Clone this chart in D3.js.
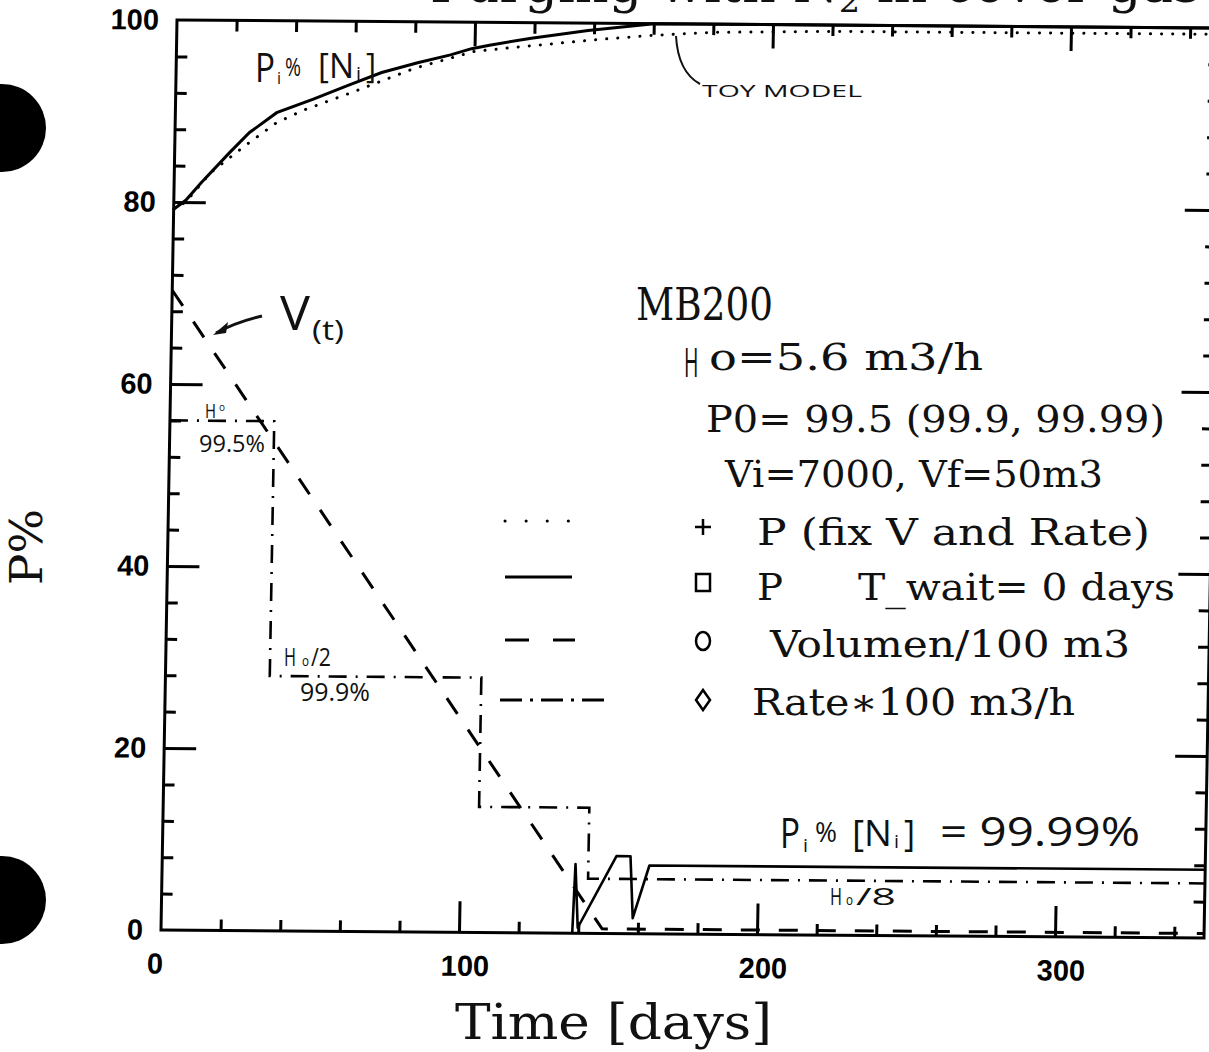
<!DOCTYPE html>
<html>
<head>
<meta charset="utf-8">
<script src="https://cdn.jsdelivr.net/npm/d3@7"></script>
<style>
  body { margin: 0; background: #fff; }
  svg { display: block; }
  .hand { font-family: 'Open Sans', 'Lato', sans-serif; font-weight: 400; fill: #111; }
  .print { font-family: 'DejaVu Serif', serif; fill: #111; }
</style>
</head>
<body>
<svg id="chart" width="1209" height="1052"></svg>
<script>
// ---- axis ticks ----
const xMajorTicks = [0, 100, 200, 300];
const xMinorTicks = [20, 40, 60, 80, 120, 140, 160, 180, 220, 240, 260, 280, 320, 340];
const yMajorTicks = [0, 20, 40, 60, 80, 100];
const yMinorTicks = [4, 8, 12, 16, 24, 28, 32, 36, 44, 48, 52, 56, 64, 68, 72, 76, 84, 88, 92, 96];

// ---- P with fixed V and rate (toy model, dotted) ----
const toyDays = [0, 4, 12, 23, 34, 43, 60, 80, 100, 114, 141, 159, 180, 220, 350];
const toyP    = [79.2, 80.0, 83.2, 86.1, 88.8, 90.2, 92.3, 94.9, 96.8, 97.3, 98.2, 98.7, 99.1, 99.3, 99.3];

// ---- P, T_wait = 0 days (solid, upper curve) ----
const pDays = [0, 4, 9, 18.5, 25, 34, 46, 58, 69, 81, 92, 99, 105, 119, 138, 160, 350];
const pVals = [79.2, 80.2, 82.1, 85.5, 87.7, 89.9, 91.4, 93.0, 94.4, 95.5, 96.4, 97.1, 97.5, 98.3, 99.2, 100, 100];

// ---- P, 99.99 % feed (solid, lower curve) ----
const lowDays = [138, 138.7, 139.8, 152.4, 157.1, 158.2, 163.5, 350];
const lowVals = [0, 7.6, 0.6, 8.5, 8.5, 1.7, 7.5, 7.5];

// ---- Volumen / 100 m3 (dashed) ----
const volDays = [0, 148, 350];
const volVals = [70.3, 0.5, 0.5];

// ---- Rate * 100 m3/h (dash-dot, steps) ----
const rateDays = [0, 35, 106, 143, 350];
const rateVals = [56, 28, 13.8, 6, 6];

const W = 1043, H = 910;
const x = d3.scaleLinear().domain([0, 350]).range([0, W]);
const y = d3.scaleLinear().domain([0, 100]).range([H, 0]);

const svg = d3.select('#chart');

// title line (runs off the top of the sheet)
svg.append('text').attr('class', 'print')
  .attr('x', 430).attr('y', 2)
  .attr('font-size', 50)
  .attr('textLength', 770).attr('lengthAdjust', 'spacingAndGlyphs')
  .html('Purging with N<tspan font-size="32" dy="10">2</tspan><tspan dy="-10"> in cover gas</tspan>');

// punch holes
svg.append('circle').attr('cx', 2).attr('cy', 128).attr('r', 44).attr('fill', '#000');
svg.append('circle').attr('cx', 2).attr('cy', 900).attr('r', 44).attr('fill', '#000');

// plot frame (slightly sheared as on the sheet)
const g = svg.append('g').attr('transform', 'matrix(1,0.0077,-0.0176,1,177,20)');

g.append('rect').attr('x', 0).attr('y', 0).attr('width', W).attr('height', H)
  .attr('fill', 'none').attr('stroke', '#000').attr('stroke-width', 3);

function tickAxis(axis, transform) {
  const a = g.append('g').attr('transform', transform).call(axis);
  a.select('.domain').remove();
  a.selectAll('line').attr('stroke', '#000').attr('stroke-width', 3);
  a.selectAll('text').remove();
  return a;
}
tickAxis(d3.axisBottom(x).tickValues(xMinorTicks).tickSize(-11), `translate(0,${H})`);
tickAxis(d3.axisBottom(x).tickValues(xMajorTicks.slice(1)).tickSize(-31), `translate(0,${H})`);
tickAxis(d3.axisTop(x).tickValues(xMinorTicks).tickSize(-11), 'translate(0,0)');
tickAxis(d3.axisTop(x).tickValues(xMajorTicks.slice(1)).tickSize(-24), 'translate(0,0)');
tickAxis(d3.axisLeft(y).tickValues(yMinorTicks).tickSize(-11), 'translate(0,0)');
tickAxis(d3.axisLeft(y).tickValues(yMajorTicks.slice(1, 5)).tickSize(-32), 'translate(0,0)');
tickAxis(d3.axisRight(y).tickValues(yMinorTicks).tickSize(-11), `translate(${W},0)`);
tickAxis(d3.axisRight(y).tickValues(yMajorTicks.slice(1, 5)).tickSize(-32), `translate(${W},0)`);

// tick labels
const yLab = g.append('g').call(d3.axisLeft(y).tickValues(yMajorTicks).tickSize(0).tickPadding(18));
yLab.select('.domain').remove();
yLab.selectAll('text').attr('font-family', "'Liberation Sans', Arial, sans-serif")
  .attr('font-weight', 'bold').attr('font-size', 29).attr('fill', '#000');

const xLab = g.append('g').attr('transform', `translate(0,${H})`)
  .call(d3.axisBottom(x).tickValues(xMajorTicks).tickSize(0).tickPadding(23));
xLab.select('.domain').remove();
xLab.selectAll('text').attr('font-family', "'Liberation Sans', Arial, sans-serif")
  .attr('font-weight', 'bold').attr('font-size', 29).attr('fill', '#000')
  .attr('dx', d => d === 0 ? -6 : 6);

// data curves
const line = d3.line().x(d => x(d[0])).y(d => y(d[1]));
const stepLine = d3.line().x(d => x(d[0])).y(d => y(d[1])).curve(d3.curveStepAfter);
const zip = (a, b) => a.map((v, i) => [v, b[i]]);

g.append('path').datum(zip(toyDays, toyP)).attr('d', line)
  .attr('fill', 'none').attr('stroke', '#000').attr('stroke-width', 3)
  .attr('stroke-linecap', 'round').attr('stroke-dasharray', '0.1 11');

g.append('path').datum(zip(pDays, pVals)).attr('d', line)
  .attr('fill', 'none').attr('stroke', '#000').attr('stroke-width', 3);

g.append('path').datum(zip(lowDays, lowVals)).attr('d', line)
  .attr('fill', 'none').attr('stroke', '#000').attr('stroke-width', 2.6)
  .attr('stroke-linejoin', 'round');

g.append('path').datum(zip(volDays, volVals)).attr('d', line)
  .attr('fill', 'none').attr('stroke', '#000').attr('stroke-width', 3)
  .attr('stroke-dasharray', '19 19');

g.append('path').datum(zip(rateDays, rateVals)).attr('d', stepLine)
  .attr('fill', 'none').attr('stroke', '#000').attr('stroke-width', 2.6)
  .attr('stroke-dasharray', '18 9 2 9');

// axis titles
svg.append('text').attr('class', 'print')
  .attr('transform', 'translate(42,585) rotate(-90)')
  .attr('font-size', 44).attr('textLength', 76).attr('lengthAdjust', 'spacingAndGlyphs')
  .text('P%');
svg.append('text').attr('class', 'print')
  .attr('x', 455).attr('y', 1039).attr('font-size', 48)
  .attr('textLength', 317).attr('lengthAdjust', 'spacingAndGlyphs')
  .text('Time [days]');

// run description and legend
function printed(str, px, py, size, len) {
  return svg.append('text').attr('class', 'print')
    .attr('x', px).attr('y', py).attr('font-size', size)
    .attr('textLength', len).attr('lengthAdjust', 'spacingAndGlyphs')
    .text(str);
}
printed('MB200', 636, 320, 44, 137);
// hand-corrected "H" in front of the rate line, drawn tall and narrow
svg.append('text').attr('class', 'hand')
  .attr('transform', 'translate(684,377) scale(0.7,1.45)')
  .attr('font-size', 28).text('H');
printed('o=5.6 m3/h', 709, 370, 37, 274);
printed('P0=  99.5 (99.9,  99.99)', 706, 432, 37, 459);
printed('Vi=7000,  Vf=50m3', 725, 487, 37, 378);
printed('P (fix V and Rate)', 757, 545, 37, 393);
printed('P', 757, 600, 37, 26);
printed('T_wait= 0 days', 858, 600, 37, 317);
printed('Volumen/100 m3', 770, 657, 37, 360);
printed('Rate\u2217100 m3/h', 752, 715, 37, 323);

const leg = svg.append('g').attr('fill', 'none').attr('stroke', '#000');
leg.append('line').attr('x1', 505).attr('x2', 575).attr('y1', 521).attr('y2', 521)
  .attr('stroke-width', 3).attr('stroke-linecap', 'round').attr('stroke-dasharray', '0.1 21');
leg.append('line').attr('x1', 505).attr('x2', 572).attr('y1', 577).attr('y2', 577).attr('stroke-width', 3);
leg.append('line').attr('x1', 505).attr('x2', 575).attr('y1', 640).attr('y2', 640)
  .attr('stroke-width', 3).attr('stroke-dasharray', '24 24');
leg.append('line').attr('x1', 500).attr('x2', 610).attr('y1', 700).attr('y2', 700)
  .attr('stroke-width', 3).attr('stroke-dasharray', '22 8 3 8');
// legend symbols
leg.append('path').attr('d', 'M695,527h16M703,519v16').attr('stroke-width', 2.5);
leg.append('rect').attr('x', 696).attr('y', 574).attr('width', 14).attr('height', 17).attr('stroke-width', 2.5);
leg.append('ellipse').attr('cx', 703).attr('cy', 641).attr('rx', 7).attr('ry', 9).attr('stroke-width', 2.5);
leg.append('path').attr('d', 'M703,690l7,10l-7,10l-7,-10z').attr('stroke-width', 2.5);

// handwritten notes
const hand = (str, px, py, size, len) => svg.append('text').attr('class', 'hand')
  .attr('x', px).attr('y', py).attr('font-size', size)
  .attr('textLength', len).attr('lengthAdjust', 'spacingAndGlyphs').text(str);

// "Pi % [Ni]" near the upper curve
hand('P', 255, 82, 40, 20);
hand('i', 277, 84, 16, 4);
hand('%', 285, 76, 26, 16);
hand('[N', 318, 78, 34, 36);
hand('i', 356, 80, 18, 5);
hand(']', 366, 78, 34, 10);

hand('TOY MODEL', 702, 97, 17, 160);
svg.append('path').attr('d', 'M676,36 Q678,72 700,84').attr('fill', 'none').attr('stroke', '#111').attr('stroke-width', 2);

hand('V', 280, 330, 48, 30);
hand('(t)', 312, 340, 28, 32);
svg.append('path').attr('d', 'M262,316 Q236,322 216,333').attr('fill', 'none').attr('stroke', '#111').attr('stroke-width', 3);
svg.append('path').attr('d', 'M213,335 L228,322 L226,333 Z').attr('fill', '#111');

hand('H', 205, 418, 20, 11);
hand('o', 219, 411, 11, 6);
hand('99.5%', 199, 452, 24, 66);
hand('H', 284, 666, 26, 12);
hand('o', 302, 666, 15, 7);
hand('/2', 311, 666, 26, 20);
hand('99.9%', 300, 701, 26, 70);

// "Pi % [Ni] = 99.99%" near the lower curve
hand('P', 780, 848, 42, 20);
hand('i', 803, 852, 18, 5);
hand('%', 815, 842, 28, 22);
hand('[N', 852, 846, 36, 40);
hand('i', 894, 848, 18, 5);
hand(']', 904, 846, 36, 11);
hand('=  99.99%', 940, 846, 40, 200);

hand('H', 830, 905, 24, 12);
hand('o', 846, 905, 15, 7);
hand('/8', 856, 905, 24, 40);
</script>
</body>
</html>
